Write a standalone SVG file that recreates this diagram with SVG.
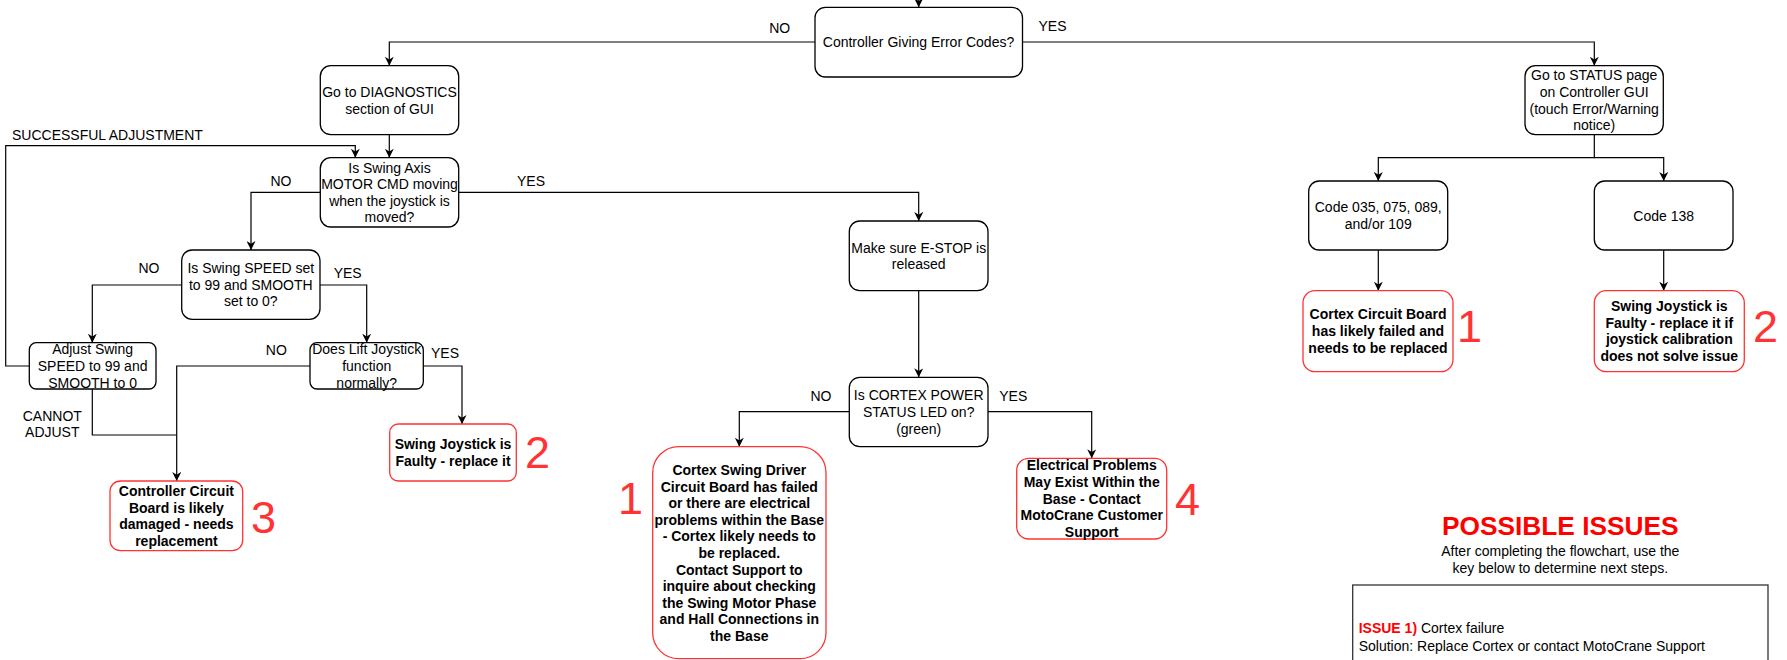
<svg xmlns="http://www.w3.org/2000/svg" width="1787" height="660" viewBox="0 0 1787 660">
<defs>
<style>
text{font-family:"Liberation Sans",Arial,Helvetica,sans-serif;font-size:14px;fill:#000}
.n{fill:#fff;stroke:#000;stroke-width:1.3}
.r{fill:#fff;stroke:#ff3333;stroke-width:1.3}
.t{text-anchor:middle}
.b{font-weight:bold}
.d{font-size:45px;fill:#ff3333}
.c{fill:none;stroke:#000;stroke-width:1.2}
.a{marker-end:url(#arr)}
</style>
<marker id="arr" viewBox="0 0 10 10" refX="10" refY="5" markerWidth="9" markerHeight="9" markerUnits="userSpaceOnUse" orient="auto">
<path d="M0,0 L10,5 L0,10 L3,5 Z" fill="#000"/>
</marker>
</defs>
<rect width="1787" height="660" fill="#fff"/>

<g id="connectors">
<path class="c a" d="M918.7,-10 V7.3"/>
<path class="c a" d="M815,42 H389.3 V65.7"/>
<path class="c a" d="M1022.5,42 H1594.3 V65.7"/>
<path class="c a" d="M389.3,134.7 V157.7"/>
<path class="c a" d="M320.3,192.3 H251 V250"/>
<path class="c a" d="M458.7,192.3 H918.7 V221"/>
<path class="c a" d="M181.7,285 H92.3 V342.7"/>
<path class="c a" d="M320,285 H366.7 V342.7"/>
<path class="c a" d="M29.3,366 H5.7 V145.7 H355.3 V157.7"/>
<path class="c" d="M92.3,389 V435 H176.7"/>
<path class="c a" d="M310,366 H176.7 V481"/>
<path class="c a" d="M423.3,366 H462 V424"/>
<path class="c a" d="M918.7,290.7 V377.3"/>
<path class="c a" d="M849.3,411.7 H739.3 V446.7"/>
<path class="c a" d="M988,411.7 H1091.7 V458.3"/>
<path class="c a" d="M1594.3,134.7 V157.7 H1378.3 V181"/>
<path class="c a" d="M1594.3,157.7 H1663.7 V181"/>
<path class="c a" d="M1378.3,250 V290.7"/>
<path class="c a" d="M1663.7,250 V290.7"/>
<g id="edge-labels">
<text class="t" x="779.7" y="33.3">NO</text>
<text class="t" x="1052.5" y="30.7">YES</text>
<text x="12" y="140">SUCCESSFUL ADJUSTMENT</text>
<text class="t" x="281" y="185.7">NO</text>
<text class="t" x="531" y="185.7">YES</text>
<text class="t" x="149" y="273.3">NO</text>
<text class="t" x="347.7" y="278">YES</text>
<text class="t" x="276.3" y="355">NO</text>
<text class="t" x="445" y="358.3">YES</text>
<text class="t" x="52.3" y="420.7">CANNOT<tspan x="52.3" dy="16.6">ADJUST</tspan></text>
<text class="t" x="821" y="400.7">NO</text>
<text class="t" x="1013.3" y="400.7">YES</text>
</g>
</g>

<g id="n-error">
<rect class="n" x="815" y="7.3" width="207.5" height="69.7" rx="10.5"/>
<text class="t" x="918.5" y="46.8">Controller Giving Error Codes?</text>
</g>
<g id="n-diag">
<rect class="n" x="320.3" y="65.7" width="138.4" height="69" rx="10.5"/>
<text class="t" x="389.5" y="96.9">Go to DIAGNOSTICS<tspan x="389.5" dy="16.6">section of GUI</tspan></text>
</g>
<g id="n-swingaxis">
<rect class="n" x="320.3" y="157.7" width="138.4" height="69.3" rx="10.5"/>
<text class="t" x="389.5" y="172.6">Is Swing Axis<tspan x="389.5" dy="16.6">MOTOR CMD moving</tspan><tspan x="389.5" dy="16.6">when the joystick is</tspan><tspan x="389.5" dy="16.6">moved?</tspan></text>
</g>
<g id="n-speed">
<rect class="n" x="181.7" y="250" width="138.3" height="69.3" rx="10.5"/>
<text class="t" x="250.8" y="272.9">Is Swing SPEED set<tspan x="250.8" dy="16.6">to 99 and SMOOTH</tspan><tspan x="250.8" dy="16.6">set to 0?</tspan></text>
</g>
<g id="n-adjust">
<rect class="n" x="29.3" y="342.7" width="126.7" height="46.3" rx="7"/>
<text class="t" x="92.6" y="354.4">Adjust Swing<tspan x="92.6" dy="16.6">SPEED to 99 and</tspan><tspan x="92.6" dy="16.6">SMOOTH to 0</tspan></text>
</g>
<g id="n-lift">
<rect class="n" x="310" y="342.7" width="113.3" height="46.3" rx="7"/>
<text class="t" x="366.7" y="354.4">Does Lift Joystick<tspan x="366.7" dy="16.6">function</tspan><tspan x="366.7" dy="16.6">normally?</tspan></text>
</g>
<g id="n-ctrlboard">
<rect class="r" x="110" y="481" width="132.7" height="69.7" rx="10.5"/>
<text class="t b" x="176.4" y="496.1">Controller Circuit<tspan x="176.4" dy="16.6">Board is likely</tspan><tspan x="176.4" dy="16.6">damaged - needs</tspan><tspan x="176.4" dy="16.6">replacement</tspan></text>
<text class="d" x="251" y="532.7">3</text>
</g>
<g id="n-joyL">
<rect class="r" x="389.7" y="424" width="126.6" height="57" rx="8.5"/>
<text class="t b" x="453" y="449.2">Swing Joystick is<tspan x="453" dy="16.6">Faulty - replace it</tspan></text>
<text class="d" x="525" y="468.3">2</text>
</g>
<g id="n-estop">
<rect class="n" x="849.3" y="221" width="138.7" height="69.7" rx="10.5"/>
<text class="t" x="918.7" y="252.7">Make sure E-STOP is<tspan x="918.7" dy="16.6">released</tspan></text>
</g>
<g id="n-power">
<rect class="n" x="849.3" y="377.3" width="138.7" height="69.4" rx="10.5"/>
<text class="t" x="918.7" y="400.4">Is CORTEX POWER<tspan x="918.7" dy="16.6">STATUS LED on?</tspan><tspan x="918.7" dy="16.6">(green)</tspan></text>
</g>
<g id="n-driver">
<rect class="r" x="652.7" y="446.7" width="173.3" height="212" rx="26"/>
<text class="t b" x="739.3" y="475">Cortex Swing Driver<tspan x="739.3" dy="16.6">Circuit Board has failed</tspan><tspan x="739.3" dy="16.6">or there are electrical</tspan><tspan x="739.3" dy="16.6">problems within the Base</tspan><tspan x="739.3" dy="16.6">- Cortex likely needs to</tspan><tspan x="739.3" dy="16.6">be replaced.</tspan><tspan x="739.3" dy="16.6">Contact Support to</tspan><tspan x="739.3" dy="16.6">inquire about checking</tspan><tspan x="739.3" dy="16.6">the Swing Motor Phase</tspan><tspan x="739.3" dy="16.6">and Hall Connections in</tspan><tspan x="739.3" dy="16.6">the Base</tspan></text>
<text class="d" x="618" y="514">1</text>
</g>
<g id="n-electrical">
<rect class="r" x="1016.7" y="458.3" width="150" height="80.7" rx="12"/>
<text class="t b" x="1091.7" y="470.3">Electrical Problems<tspan x="1091.7" dy="16.6">May Exist Within the</tspan><tspan x="1091.7" dy="16.6">Base - Contact</tspan><tspan x="1091.7" dy="16.6">MotoCrane Customer</tspan><tspan x="1091.7" dy="16.6">Support</tspan></text>
<text class="d" x="1175" y="515">4</text>
</g>
<g id="n-status">
<rect class="n" x="1525" y="65.7" width="138.3" height="69" rx="10.5"/>
<text class="t" x="1594.2" y="80.3">Go to STATUS page<tspan x="1594.2" dy="16.6">on Controller GUI</tspan><tspan x="1594.2" dy="16.6">(touch Error/Warning</tspan><tspan x="1594.2" dy="16.6">notice)</tspan></text>
</g>
<g id="n-code035">
<rect class="n" x="1308.7" y="181" width="139" height="69" rx="10.5"/>
<text class="t" x="1378.2" y="212.2">Code 035, 075, 089,<tspan x="1378.2" dy="16.6">and/or 109</tspan></text>
</g>
<g id="n-code138">
<rect class="n" x="1594.3" y="181" width="138.7" height="69" rx="10.5"/>
<text class="t" x="1663.7" y="220.5">Code 138</text>
</g>
<g id="n-cortexboard">
<rect class="r" x="1303" y="290.7" width="150" height="81" rx="12"/>
<text class="t b" x="1378" y="319.4">Cortex Circuit Board<tspan x="1378" dy="16.6">has likely failed and</tspan><tspan x="1378" dy="16.6">needs to be replaced</tspan></text>
<text class="d" x="1457" y="341.7">1</text>
</g>
<g id="n-joyR">
<rect class="r" x="1594.3" y="290.7" width="150" height="81" rx="12"/>
<text class="t b" x="1669.3" y="311.1">Swing Joystick is<tspan x="1669.3" dy="16.6">Faulty - replace it if</tspan><tspan x="1669.3" dy="16.6">joystick calibration</tspan><tspan x="1669.3" dy="16.6">does not solve issue</tspan></text>
<text class="d" x="1753" y="341.7">2</text>
</g>

<g id="legend">
<text class="t b" x="1560.3" y="535" style="font-size:26.3px;fill:#ff0000">POSSIBLE ISSUES</text>
<text class="t" x="1560.3" y="556">After completing the flowchart, use the<tspan x="1560.3" dy="16.7">key below to determine next steps.</tspan></text>
<rect x="1352.7" y="585" width="415.3" height="120" fill="#fff" stroke="#333" stroke-width="1.3"/>
<text x="1358.7" y="633.3"><tspan class="b" style="fill:#ff0000">ISSUE 1)</tspan> Cortex failure</text>
<text x="1358.7" y="650.7">Solution: Replace Cortex or contact MotoCrane Support</text>
</g>
</svg>
